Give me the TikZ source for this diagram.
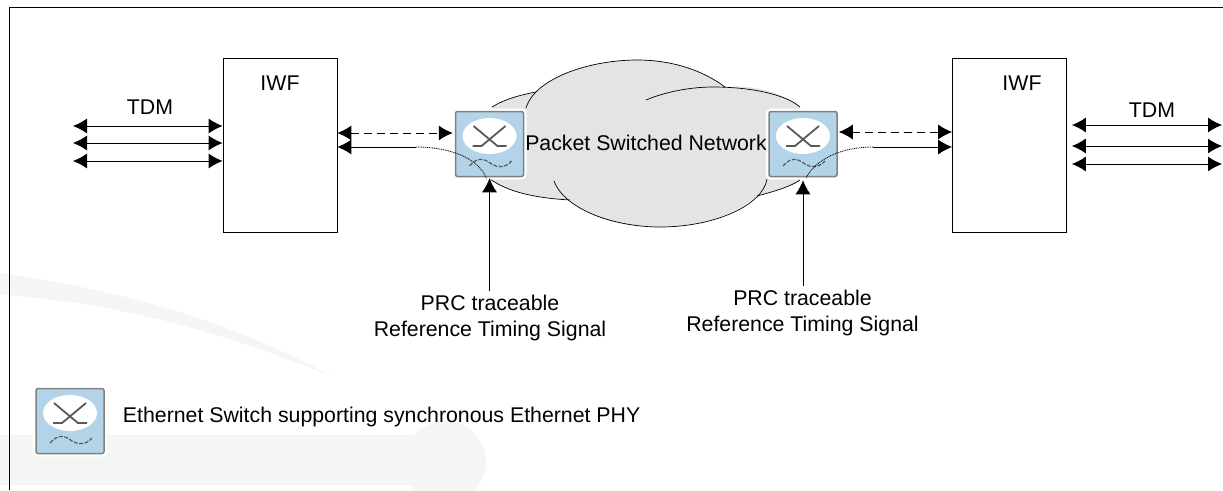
\documentclass[tikz,border=0pt]{standalone}
\usepackage{fontspec}
\setmainfont{Liberation Sans}
\usetikzlibrary{positioning,calc,arrows.meta}
\definecolor{wmark}{HTML}{F4F6F5}
\definecolor{cloudgray}{HTML}{E4E4E4}
\definecolor{swblue}{HTML}{B3D4E8}
\tikzset{
    every node/.style={font=\fontsize{21.3}{26.5}\selectfont},
    iwfbox/.style={draw, line width=0.8pt, minimum width=114pt, minimum height=174pt},
    switchbox/.style={preaction={draw=white, line width=6pt}, draw=gray, fill=swblue, line width=1.5pt, rounded corners=2pt, minimum width=68pt, minimum height=65pt, inner sep=0pt},
    arrow/.style={-{Latex[length=14pt,width=15pt]}, line width=0.9pt},
    biarrow/.style={{Latex[length=14pt,width=15pt]}-{Latex[length=14pt,width=15pt]}, line width=0.9pt},
    label/.style={align=center},
    pics/swicon/.style={code={
        \fill[white] (0,-8) ellipse (27 and 18);
        \draw[gray!70!black, line width=1.8pt] (-16,-18) -- (8,2) -- (17,2);
        \draw[gray!70!black, line width=1.8pt] (16,-18) -- (-8,2) -- (-17,2);
        \draw[gray!70!black, line width=1.2pt, dash pattern=on 4pt off 1.5pt] (-20,22) .. controls (-12,13) and (-6,14) .. (2,20) .. controls (8,24) and (16,24) .. (22,17);
    }},
}

\begin{document}
\begin{tikzpicture}[x=1pt,y=-1pt]
  \useasboundingbox (0,0) rectangle (1223,490);
  % faint marks behind everything
  \fill[wmark] (0,273) .. controls (120,290) and (230,320) .. (333,377) .. controls (230,335) and (120,302) .. (0,295) -- cycle;
  \fill[wmark] (0,435) -- (420,435) -- (420,485) -- (0,485) -- cycle;
  \fill[wmark] (445,462) circle (41);
  \draw[line width=0.8pt] (9,490) -- (9,7) -- (1223,7);

  % cloud
  \fill[cloudgray] (492,107) .. controls (505,99) and (520,95) .. (536,92) .. controls (560,70) and (600,60) .. (637,60) .. controls (675,60) and (705,72) .. (725,87) .. controls (755,84) and (785,94) .. (800,107) -- (800,180) .. controls (790,187) and (772,192) .. (757,196) .. controls (730,218) and (695,227) .. (660,227) .. controls (620,227) and (590,218) .. (570,200) .. controls (535,198) and (508,192) .. (490,179) -- cycle;
  \draw[line width=0.7pt] (492,107) .. controls (505,99) and (520,95) .. (536,92);
  \draw[line width=0.7pt] (526,108) .. controls (535,78) and (590,60) .. (637,60) .. controls (675,60) and (705,72) .. (725,87);
  \draw[line width=0.7pt] (646,100) .. controls (665,92) and (690,87) .. (713,87) .. controls (750,87) and (785,94) .. (800,107);
  \draw[line width=0.7pt] (490,179) .. controls (508,192) and (535,198) .. (570,200);
  \draw[line width=0.7pt] (554,181) .. controls (565,210) and (615,227) .. (660,227) .. controls (715,227) and (763,205) .. (767,179);
  \draw[line width=0.7pt] (757,196) .. controls (772,192) and (790,187) .. (800,180);
  \node (cloudtxt) at (646,143) {Packet Switched Network};

  % boxes
  \node[iwfbox] (iwfL) at (280,145) {};
  \node[iwfbox] (iwfR) at (1009.5,145) {};
  \node (iwfLtxt) at (280,83) {IWF};
  \node (iwfRtxt) at (1022,83) {IWF};

  % switches
  \node[switchbox] (swL) at (489.5,144) {};
  \pic at (swL) {swicon};
  \node[switchbox] (swR) at (803,144) {};
  \pic at (swR) {swicon};
  \node[switchbox] (swK) at (70,421) {};
  \pic at (swK) {swicon};

  % labels
  \node (tdmL) at (150,107) {TDM};
  \node (tdmR) at (1152,110) {TDM};
  \node[label] (prcL) at (490,318) {PRC traceable\\Reference Timing Signal};
  \node[label] (prcR) at (802.5,313) {PRC traceable\\Reference Timing Signal};
  \node[right=0pt of swK, anchor=west, inner sep=0pt, xshift=18pt, yshift=4pt] (keytxt) {Ethernet Switch supporting synchronous Ethernet PHY};

  % TDM lines
  \coordinate (tl1) at (73,126);
  \coordinate (tl2) at (73,143);
  \coordinate (tl3) at (73,161);
  \coordinate (tr1) at (1222,125);
  \coordinate (tr2) at (1222,146);
  \coordinate (tr3) at (1222,164);
  \draw[biarrow] (tl1) -- (iwfL.west |- tl1);
  \draw[biarrow] (tl2) -- (iwfL.west |- tl2);
  \draw[biarrow] (tl3) -- (iwfL.west |- tl3);
  \draw[biarrow] (tr1) -- ($(iwfR.east |- tr1)+(5,0)$);
  \draw[biarrow] (tr2) -- ($(iwfR.east |- tr2)+(5,0)$);
  \draw[biarrow] (tr3) -- ($(iwfR.east |- tr3)+(5,0)$);

  % packet side
  \draw[biarrow, dashed, dash pattern=on 8pt off 5pt] ($(iwfL.east)+(0,-12)$) -- ($(swL.west)+(-2,-11)$);
  \draw[biarrow, dashed, dash pattern=on 8pt off 5pt] ($(swR.east)+(1,-12)$) -- ($(iwfR.west)+(0,-13)$);
  \coordinate (bendL) at (416,147);
  \coordinate (bendR) at (873,147);
  \draw[arrow] (bendL) -- (iwfL.east |- bendL);
  \draw[arrow] (bendR) -- (iwfR.west |- bendR);
  \draw[line width=0.8pt, dash pattern=on 1pt off 0.8pt] (bendL) .. controls (450,147) and (478,158) .. ($(swL.south)+(-3,1)$);
  \draw[line width=0.8pt, dash pattern=on 1pt off 0.8pt] (bendR) .. controls (840,147) and (815,160) .. ($(swR.south)+(3,1)$);
  \draw[arrow] (prcL.north -| swL.south) -- ($(swL.south)+(0,1)$);
  \draw[arrow] (prcR.north -| swR.south) -- ($(swR.south)+(0,3)$);
\end{tikzpicture}
\end{document}
